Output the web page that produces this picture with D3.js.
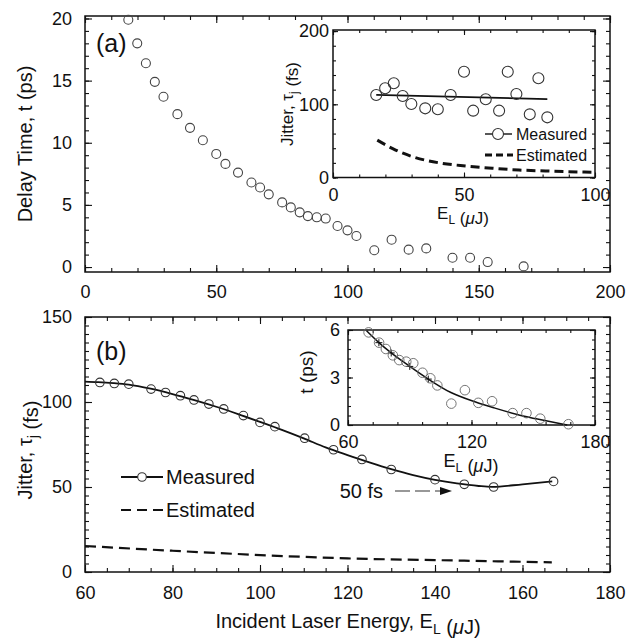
<!doctype html>
<html lang="en">
<head>
<meta charset="UTF-8" />
<title>Delay time and jitter vs incident laser energy</title>
<script src="https://d3js.org/d3.v7.min.js"></script>
<style>
  body { margin: 0; background: #fff; }
  svg { font-family: 'Liberation Sans', Arial, Helvetica, sans-serif; fill: #111; }
  .frame { stroke: #111; stroke-width: 1.5; }
  .tick line { stroke: #111; stroke-width: 1.1; }
  .tick text { fill: #111; }
</style>
</head>
<body>
<svg id="chart" width="638" height="639"></svg>
<script>
// incident laser energy E_L (uJ) of each measurement
const energy = [16.5, 19.9, 23.2, 26.6, 29.9, 35.2, 40.0, 44.9, 50.0, 53.5, 58.3,
  63.4, 66.7, 70.0, 75.1, 78.4, 81.8, 84.9, 88.3, 91.7, 96.2, 100.0, 103.4,
  110.2, 116.8, 123.3, 130.0, 140.0, 146.7, 153.4, 167.1];
// (a) delay time t (ps)
const delay = [19.9, 18.0, 16.4, 14.9, 13.7, 12.3, 11.2, 10.2, 9.1, 8.3, 7.6,
  6.8, 6.4, 5.85, 5.2, 4.8, 4.4, 4.1, 4.0, 3.9, 3.3, 2.95, 2.5,
  1.35, 2.2, 1.4, 1.5, 0.75, 0.75, 0.4, 0.05];

// inset (a): jitter (fs) for the 17 lowest energies
const jitterLow = [112.7, 121.9, 128.7, 111.3, 100.4, 94.5, 93.2, 112.7, 144.5,
  91.3, 106.8, 91.3, 144.5, 114, 86.3, 135.5, 82.2];
const jitterLowFitE = [16.5, 81.8];
const jitterLowFitV = [113, 107];
const estLowE = [16.9, 23.9, 30.3, 40.5, 50.6, 60.8, 71, 81.2, 100];
const estLowV = [51, 37.5, 28.5, 20, 15.7, 12.6, 10.2, 8.9, 7.1];

// (b): jitter (fs) for energies from 63 uJ up
const jitterHigh = [111.5, 110.9, 110.5, 107.6, 105.6, 103.7, 101.2, 98.8, 95.9,
  92, 88, 85.5, 78.7, 71.9, 66.2, 60.3, 54.3, 51.6, 50, 53.3];
const fitHighE = [60, 63, 66.5, 70, 75, 80, 85, 90, 95, 100, 105, 110, 115, 120,
  125, 130, 135, 140, 145, 150, 153, 160, 166.8];
const fitHighV = [112, 111.7, 111.1, 110.2, 107.8, 104.7, 101.1, 97.2, 92.9, 88.3,
  83.6, 78.6, 73.3, 68.8, 64.5, 60.5, 57, 54.2, 52.1, 50.6, 50.1, 51.6, 53.3];
const estHighE = [60, 80, 109, 120, 140, 160, 166.7];
const estHighV = [15.3, 12.5, 9, 8, 7, 6, 5.7];

// inset (b): fit of delay time (ps)
const delayFitE = [69, 75, 81, 90, 99, 110, 122, 131, 145, 155, 166.5];
const delayFitV = [5.95, 5.2, 4.55, 3.7, 2.9, 2.05, 1.45, 1.08, 0.57, 0.3, 0];

const svg = d3.select('#chart');
const zip = (a, b) => a.map((d, i) => [d, b[i]]);

// boxed plot with inward ticks on all four sides
function frame(g, x, y, o) {
  const [x0, x1] = x.range();
  const [y0, y1] = y.range();
  g.append('rect').attr('class', 'frame')
    .attr('x', x0).attr('y', y1)
    .attr('width', x1 - x0).attr('height', y0 - y1)
    .attr('fill', '#fff');
  const sides = [
    [() => d3.axisBottom(x), `translate(0,${y0})`, o.xMinor, o.xMajor, o.xPad],
    [() => d3.axisTop(x), `translate(0,${y1})`, o.xMinor, o.xMajor, null],
    [() => d3.axisLeft(y), `translate(${x0},0)`, o.yMinor, o.yMajor, o.yPad],
    [() => d3.axisRight(y), `translate(${x1},0)`, o.yMinor, o.yMajor, null],
  ];
  sides.forEach(([mk, tr, minor, major, pad]) => {
    g.append('g').attr('transform', tr)
      .call(mk().tickValues(minor).tickSize(-o.minorLen).tickFormat(''))
      .call((s) => s.select('.domain').remove());
    const ax = g.append('g').attr('transform', tr)
      .call(mk().tickValues(major).tickSize(-o.majorLen)
        .tickPadding(pad == null ? 0 : pad)
        .tickFormat(pad == null ? '' : d3.format('d')))
      .call((s) => s.select('.domain').remove());
    ax.attr('font-family', null).attr('font-size', o.font);
  });
}

// parts: [text, 'sub' | 'it' | undefined]
function subText(g, x, y, parts, size, rotate) {
  const t = g.append('text')
    .attr('transform', `translate(${x},${y})` + (rotate ? ' rotate(-90)' : ''))
    .attr('text-anchor', 'middle')
    .attr('font-size', size);
  parts.forEach(([s, kind]) => {
    if (kind === 'sub') {
      t.append('tspan').attr('dy', size * 0.3).attr('font-size', size * 0.7).text(s);
      t.append('tspan').attr('dy', -size * 0.3).text('');
    } else if (kind === 'it') {
      t.append('tspan').attr('font-style', 'italic').text(s);
    } else {
      t.append('tspan').text(s);
    }
  });
  return t;
}

const unitParts = (lead) => [[lead], ['L', 'sub'], [' ('], ['μ', 'it'], ['J)']];

// ---------- panel (a) ----------
const gA = svg.append('g');
const xA = d3.scaleLinear().domain([0, 200]).range([85, 610]);
const yA = d3.scaleLinear().domain([-0.4, 20.2]).range([272, 16]);
frame(gA, xA, yA, {
  xMajor: [0, 50, 100, 150, 200], xMinor: d3.range(0, 201, 10),
  yMajor: [0, 5, 10, 15, 20], yMinor: d3.range(0, 21, 1),
  majorLen: 7, minorLen: 4, font: 18, xPad: 13, yPad: 13,
});
gA.selectAll('circle.pt').data(zip(energy, delay)).join('circle')
  .attr('class', 'pt')
  .attr('cx', (d) => xA(d[0])).attr('cy', (d) => yA(d[1])).attr('r', 4.5)
  .attr('fill', 'none').attr('stroke', '#444').attr('stroke-width', 1.1);
gA.append('text').attr('x', 96).attr('y', 52).attr('font-size', 25).text('(a)');
subText(gA, 32, 144, [['Delay Time, t (ps)']], 20, true);

// inset (a)
const gIA = svg.append('g');
const xIA = d3.scaleLinear().domain([0, 100]).range([333, 595]);
const yIA = d3.scaleLinear().domain([0, 201.5]).range([177.5, 30]);
frame(gIA, xIA, yIA, {
  xMajor: [0, 50, 100], xMinor: d3.range(0, 101, 10),
  yMajor: [0, 100, 200], yMinor: d3.range(0, 201, 20),
  majorLen: 5, minorLen: 3, font: 18, xPad: 11, yPad: 4,
});
const lineIA = d3.line().x((d) => xIA(d[0])).y((d) => yIA(d[1]));
gIA.append('path').datum(zip(jitterLowFitE, jitterLowFitV))
  .attr('d', lineIA).attr('fill', 'none').attr('stroke', '#111').attr('stroke-width', 1.8);
gIA.append('path').datum(zip(estLowE, estLowV))
  .attr('d', lineIA.curve(d3.curveMonotoneX))
  .attr('fill', 'none').attr('stroke', '#111').attr('stroke-width', 3)
  .attr('stroke-dasharray', '9,5');
gIA.selectAll('circle.pt').data(zip(energy.slice(0, jitterLow.length), jitterLow)).join('circle')
  .attr('class', 'pt')
  .attr('cx', (d) => xIA(d[0])).attr('cy', (d) => yIA(d[1])).attr('r', 5.5)
  .attr('fill', 'none').attr('stroke', '#333').attr('stroke-width', 1.1);
// inset (a) legend
gIA.append('line').attr('x1', 485).attr('x2', 512).attr('y1', 134).attr('y2', 134)
  .attr('stroke', '#111').attr('stroke-width', 1.4);
gIA.append('circle').attr('cx', 498).attr('cy', 134).attr('r', 5.5)
  .attr('fill', '#fff').attr('stroke', '#333').attr('stroke-width', 1.1);
gIA.append('text').attr('x', 516).attr('y', 140).attr('font-size', 16).text('Measured');
gIA.append('line').attr('x1', 485).attr('x2', 513).attr('y1', 155).attr('y2', 155)
  .attr('stroke', '#111').attr('stroke-width', 3).attr('stroke-dasharray', '7,4');
gIA.append('text').attr('x', 516).attr('y', 161).attr('font-size', 16).text('Estimated');
subText(gIA, 293, 104, [['Jitter, τ'], ['j', 'sub'], [' (fs)']], 17, true);
subText(gIA, 463, 219, unitParts('E'), 17, false);

// ---------- panel (b) ----------
const gB = svg.append('g');
const xB = d3.scaleLinear().domain([60, 180]).range([85, 610]);
const yB = d3.scaleLinear().domain([0, 150]).range([572, 317]);
frame(gB, xB, yB, {
  xMajor: d3.range(60, 181, 20), xMinor: d3.range(60, 181, 5),
  yMajor: [0, 50, 100, 150], yMinor: d3.range(0, 151, 5),
  majorLen: 7, minorLen: 4, font: 18, xPad: 14, yPad: 13,
});
const lineB = d3.line().x((d) => xB(d[0])).y((d) => yB(d[1])).curve(d3.curveMonotoneX);
gB.append('path').datum(zip(fitHighE, fitHighV))
  .attr('d', lineB).attr('fill', 'none').attr('stroke', '#111').attr('stroke-width', 1.8);
gB.append('path').datum(zip(estHighE, estHighV))
  .attr('d', lineB).attr('fill', 'none').attr('stroke', '#111').attr('stroke-width', 2.2)
  .attr('stroke-dasharray', '11,6');
gB.selectAll('circle.pt').data(zip(energy.slice(energy.length - jitterHigh.length), jitterHigh))
  .join('circle').attr('class', 'pt')
  .attr('cx', (d) => xB(d[0])).attr('cy', (d) => yB(d[1])).attr('r', 4.3)
  .attr('fill', 'none').attr('stroke', '#333').attr('stroke-width', 1.1);
gB.append('text').attr('x', 96).attr('y', 360).attr('font-size', 25).text('(b)');
// legend
gB.append('line').attr('x1', 121).attr('x2', 163).attr('y1', 477).attr('y2', 477)
  .attr('stroke', '#111').attr('stroke-width', 1.8);
gB.append('circle').attr('cx', 142).attr('cy', 477).attr('r', 4.3)
  .attr('fill', '#fff').attr('stroke', '#333').attr('stroke-width', 1.1);
gB.append('text').attr('x', 166).attr('y', 484).attr('font-size', 20).text('Measured');
gB.append('line').attr('x1', 121).attr('x2', 163).attr('y1', 510).attr('y2', 510)
  .attr('stroke', '#111').attr('stroke-width', 2).attr('stroke-dasharray', '10,6');
gB.append('text').attr('x', 166).attr('y', 517).attr('font-size', 20).text('Estimated');
// 50 fs arrow
gB.append('text').attr('x', 383).attr('y', 498).attr('text-anchor', 'end')
  .attr('font-size', 20).text('50 fs');
gB.append('line').attr('x1', 395).attr('x2', 441).attr('y1', 491).attr('y2', 491)
  .attr('stroke', '#777').attr('stroke-width', 1.3).attr('stroke-dasharray', '15,5');
gB.append('path').attr('d', 'M440,487 L452,491 L440,495 Z').attr('fill', '#111');
subText(gB, 32, 450, [['Jitter, τ'], ['j', 'sub'], [' (fs)']], 20, true);
subText(gB, 348, 628, unitParts('Incident Laser Energy, E'), 20, false);

// inset (b)
const gIB = svg.append('g');
const xIB = d3.scaleLinear().domain([60, 180]).range([348, 595]);
const yIB = d3.scaleLinear().domain([0, 6]).range([425, 330]);
frame(gIB, xIB, yIB, {
  xMajor: [60, 120, 180], xMinor: d3.range(60, 181, 12),
  yMajor: [0, 3, 6], yMinor: d3.range(0, 6.01, 0.6),
  majorLen: 5, minorLen: 3, font: 18, xPad: 10, yPad: 8,
});
const lineIB = d3.line().x((d) => xIB(d[0])).y((d) => yIB(d[1])).curve(d3.curveMonotoneX);
const fitIB = zip(delayFitE, delayFitV);
gIB.append('path').datum(fitIB)
  .attr('d', lineIB).attr('fill', 'none').attr('stroke', '#111').attr('stroke-width', 1.5);
gIB.selectAll('path.plus').data(fitIB.filter((d) => d[0] > 70 && d[0] < 105)).join('path')
  .attr('class', 'plus')
  .attr('d', (d) => `M${xIB(d[0]) - 3.5},${yIB(d[1])}h7M${xIB(d[0])},${yIB(d[1]) - 3.5}v7`)
  .attr('stroke', '#111').attr('stroke-width', 1);
gIB.selectAll('circle.pt').data(zip(energy, delay).filter((d) => d[1] <= 6)).join('circle')
  .attr('class', 'pt')
  .attr('cx', (d) => xIB(d[0])).attr('cy', (d) => yIB(d[1])).attr('r', 4.8)
  .attr('fill', 'none').attr('stroke', '#666').attr('stroke-width', 0.9);
subText(gIB, 313, 372, [['t (ps)']], 19, true);
subText(gIB, 471, 467, unitParts('E'), 18, false);
</script>
</body>
</html>
